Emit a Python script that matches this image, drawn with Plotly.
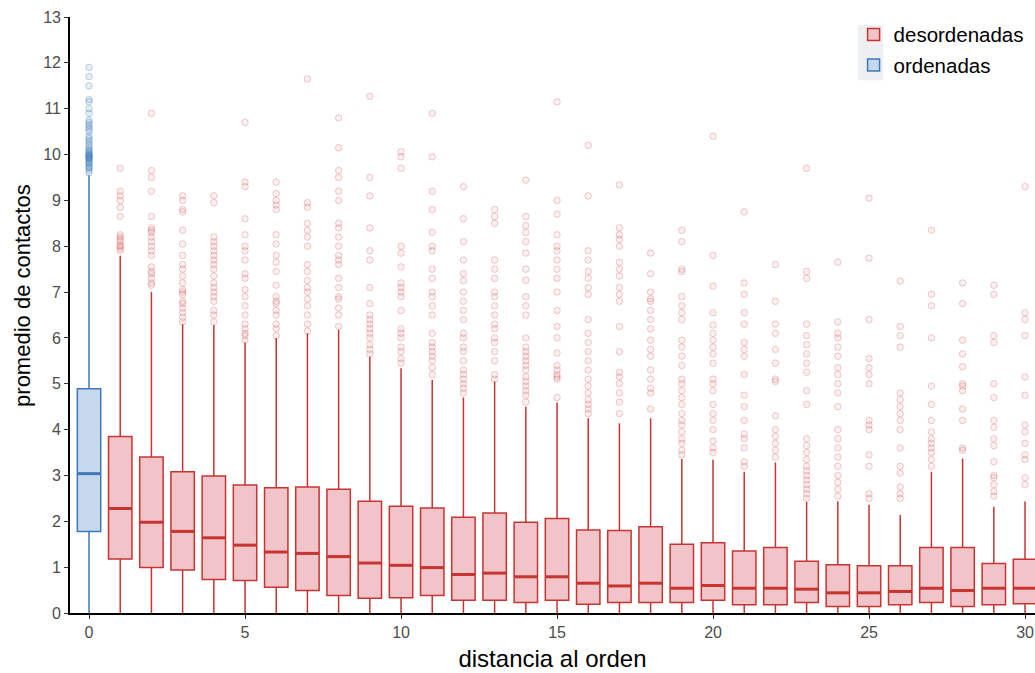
import plotly.graph_objects as go

# Distancia al orden de cada grupo de partículas
distancia_desord = list(range(1, 31))
distancia_ord = [0]

# Estadísticos de caja, partículas ordenadas (distancia 0)
ord_q1 = [1.78]
ord_mediana = [3.04]
ord_q3 = [4.89]
ord_bigote_inf = [0.0]
ord_bigote_sup = [9.55]

# Estadísticos de caja, partículas desordenadas (distancias 1..30)
des_q1 = [1.18, 0.99, 0.94, 0.73, 0.71, 0.56, 0.49, 0.38, 0.32, 0.33,
          0.38, 0.28, 0.28, 0.23, 0.28, 0.19, 0.23, 0.23, 0.23, 0.28,
          0.18, 0.18, 0.23, 0.14, 0.14, 0.18, 0.23, 0.14, 0.18, 0.20]
des_mediana = [2.28, 1.98, 1.78, 1.64, 1.48, 1.33, 1.30, 1.23, 1.09, 1.04,
               0.99, 0.84, 0.87, 0.79, 0.79, 0.65, 0.59, 0.65, 0.54, 0.60,
               0.54, 0.54, 0.52, 0.44, 0.44, 0.47, 0.54, 0.49, 0.54, 0.54]
des_q3 = [3.85, 3.40, 3.08, 2.99, 2.79, 2.73, 2.75, 2.70, 2.44, 2.33,
          2.29, 2.09, 2.18, 1.98, 2.06, 1.81, 1.80, 1.88, 1.50, 1.53,
          1.35, 1.43, 1.13, 1.05, 1.03, 1.03, 1.43, 1.43, 1.08, 1.17]
des_bigote_inf = [0.0] * 30
des_bigote_sup = [7.79, 7.00, 6.30, 6.28, 5.90, 6.00, 6.10, 6.18, 5.59, 5.34,
                  5.08, 4.70, 5.05, 4.50, 4.59, 4.25, 4.14, 4.25, 3.36, 3.34,
                  3.08, 3.28, 2.42, 2.44, 2.36, 2.14, 3.08, 3.37, 2.32, 2.43]

# Valores atípicos, partículas ordenadas
atipicos_ord = [9.60, 9.65, 9.70, 9.72, 9.75, 9.80, 9.82, 9.85, 9.88, 9.90,
                9.92, 9.94, 9.95, 9.97, 9.98, 10.00, 10.02, 10.05, 10.08,
                10.10, 10.15, 10.20, 10.25, 10.30, 10.35, 10.40, 10.50,
                10.55, 10.60, 10.65, 10.70, 10.75, 10.90, 11.00, 11.15,
                11.20, 11.50, 11.70, 11.90]

# Valores atípicos, partículas desordenadas (una lista por distancia)
atipicos_desord = [
    [7.90, 7.95, 8.00, 8.02, 8.10, 8.15, 8.20, 8.25, 8.65, 8.85, 9.00, 9.10, 9.20, 9.70],
    [7.15, 7.20, 7.30, 7.40, 7.45, 7.55, 7.80, 7.90, 8.00, 8.10, 8.20, 8.30, 8.35, 8.40,
     8.65, 9.20, 9.50, 9.65, 10.90],
    [6.35, 6.45, 6.55, 6.65, 6.75, 6.80, 6.95, 7.00, 7.05, 7.20, 7.35, 7.50, 7.60, 7.80,
     8.05, 8.35, 8.75, 8.80, 9.00, 9.10],
    [6.35, 6.50, 6.60, 6.80, 6.90, 7.00, 7.10, 7.20, 7.35, 7.50, 7.60, 7.70, 7.80, 7.90,
     8.00, 8.10, 8.20, 8.95, 9.10],
    [5.95, 6.05, 6.10, 6.20, 6.30, 6.50, 6.70, 6.90, 7.05, 7.30, 7.40, 7.70, 7.90, 8.00,
     8.25, 8.60, 9.30, 9.40, 10.70],
    [6.05, 6.20, 6.30, 6.50, 6.60, 6.75, 6.80, 6.90, 7.15, 7.45, 7.65, 7.80, 8.05, 8.25,
     8.80, 8.90, 9.00, 9.15, 9.40],
    [6.15, 6.30, 6.50, 6.70, 6.85, 7.00, 7.10, 7.25, 7.45, 7.60, 8.00, 8.20, 8.35, 8.50,
     8.85, 8.95, 11.65],
    [6.25, 6.50, 6.65, 6.85, 6.90, 7.10, 7.30, 7.60, 7.70, 7.80, 8.00, 8.20, 8.40, 8.50,
     9.00, 9.20, 9.50, 9.65, 10.15, 10.80],
    [5.65, 5.75, 5.85, 6.00, 6.10, 6.20, 6.30, 6.40, 6.50, 6.75, 7.10, 7.70, 7.90, 8.40,
     9.10, 9.50, 11.27],
    [5.45, 5.55, 5.70, 5.80, 6.00, 6.10, 6.20, 6.60, 6.90, 7.00, 7.10, 7.20, 7.55, 7.85,
     8.00, 9.70, 9.95, 10.06],
    [5.20, 5.35, 5.50, 5.60, 5.70, 5.80, 5.90, 6.10, 6.50, 6.70, 6.90, 7.00, 7.30, 7.50,
     7.90, 8.00, 8.30, 8.80, 9.20, 9.95, 10.90],
    [4.80, 4.90, 5.00, 5.10, 5.20, 5.30, 5.50, 5.70, 5.80, 6.00, 6.10, 6.40, 6.60, 6.80,
     7.00, 7.25, 7.40, 7.70, 8.10, 8.60, 9.30],
    [5.10, 5.20, 5.50, 5.70, 5.90, 6.00, 6.20, 6.30, 6.50, 6.70, 6.90, 7.00, 7.30, 7.50,
     7.70, 8.50, 8.65, 8.80],
    [4.60, 4.75, 4.85, 4.95, 5.05, 5.15, 5.30, 5.40, 5.50, 5.60, 5.70, 5.80, 6.00, 6.50,
     6.70, 6.90, 7.26, 7.50, 7.85, 8.10, 8.30, 8.45, 8.65, 9.44],
    [4.70, 5.10, 5.15, 5.20, 5.30, 5.40, 5.67, 6.00, 6.25, 6.60, 7.00, 7.30, 7.50, 7.70,
     7.90, 8.00, 8.25, 8.70, 9.00, 11.15],
    [4.35, 4.45, 4.55, 4.65, 4.80, 4.95, 5.10, 5.30, 5.50, 5.70, 5.90, 6.10, 6.40, 6.95,
     7.10, 7.30, 7.45, 7.70, 7.90, 9.10, 10.20],
    [4.35, 4.60, 4.80, 5.00, 5.15, 5.25, 5.70, 6.25, 6.80, 6.95, 7.10, 7.35, 7.50, 7.65,
     8.00, 8.15, 8.25, 8.40, 9.34],
    [4.45, 4.80, 4.90, 5.10, 5.30, 5.60, 5.75, 5.95, 6.20, 6.40, 6.60, 6.80, 6.85, 7.00,
     7.40, 7.85],
    [3.45, 3.55, 3.70, 3.80, 3.95, 4.10, 4.20, 4.35, 4.55, 4.70, 4.85, 5.00, 5.10, 5.40,
     5.60, 5.80, 5.95, 6.40, 6.55, 6.70, 6.90, 7.45, 7.50, 8.10, 8.35],
    [3.50, 3.60, 3.75, 4.00, 4.20, 4.35, 4.55, 4.85, 5.00, 5.10, 5.45, 5.65, 5.80, 5.95,
     6.10, 6.28, 6.55, 7.13, 7.80, 10.40],
    [3.20, 3.30, 3.60, 3.80, 3.90, 4.20, 4.50, 4.75, 5.20, 5.60, 5.75, 5.90, 6.30, 6.55,
     6.95, 7.20, 8.75],
    [3.40, 3.55, 3.70, 3.85, 4.00, 4.30, 5.05, 5.10, 5.45, 5.75, 6.10, 6.30, 6.80, 7.60],
    [2.50, 2.60, 2.70, 2.80, 2.90, 3.00, 3.10, 3.20, 3.35, 3.50, 3.65, 3.80, 4.55, 4.85,
     5.25, 5.45, 5.65, 5.85, 6.05, 6.30, 7.30, 7.45, 9.70],
    [2.55, 2.70, 2.85, 3.00, 3.20, 3.40, 3.60, 3.80, 4.00, 4.50, 4.80, 5.00, 5.20, 5.35,
     5.60, 5.80, 6.00, 6.10, 6.35, 7.65],
    [2.50, 2.60, 3.20, 3.45, 4.00, 4.10, 4.20, 5.00, 5.20, 5.35, 5.55, 6.40, 7.74, 9.05],
    [2.50, 2.60, 2.75, 3.05, 3.20, 3.60, 4.00, 4.20, 4.35, 4.50, 4.65, 4.80, 5.80, 6.05,
     6.25, 7.24],
    [3.20, 3.35, 3.50, 3.60, 3.70, 3.80, 3.95, 4.20, 4.55, 4.95, 6.00, 6.70, 6.95, 8.35],
    [3.55, 3.60, 4.20, 4.45, 4.85, 4.95, 5.00, 5.37, 5.65, 5.95, 6.75, 7.20],
    [2.55, 2.65, 2.80, 2.95, 3.00, 3.30, 3.65, 3.80, 4.05, 4.20, 4.70, 5.00, 5.90, 6.05,
     6.95, 7.15],
    [2.80, 2.95, 3.35, 3.45, 3.70, 3.95, 4.10, 4.75, 5.15, 6.05, 6.40, 6.55, 9.30],
]

ROJO = "rgb(200,52,48)"
ROJO_RELLENO = "rgb(240,196,200)"
AZUL = "rgb(60,122,188)"
AZUL_RELLENO = "rgb(199,216,236)"
ANCHO_CAJA = 0.75

fig = go.Figure()

# Puntos atípicos (debajo de las cajas)
x_atip, y_atip = [], []
for d, vals in zip(distancia_desord, atipicos_desord):
    x_atip += [d] * len(vals)
    y_atip += vals
fig.add_trace(go.Scatter(
    x=x_atip, y=y_atip, mode="markers", showlegend=False, hoverinfo="skip",
    marker=dict(size=6.5, color="rgba(205,60,60,0.08)",
                line=dict(color="rgba(205,60,60,0.26)", width=1)),
))
fig.add_trace(go.Scatter(
    x=distancia_ord * len(atipicos_ord), y=atipicos_ord, mode="markers",
    showlegend=False, hoverinfo="skip",
    marker=dict(size=6.5, color="rgba(60,122,188,0.12)",
                line=dict(color="rgba(60,122,188,0.32)", width=1)),
))

# Cajas
fig.add_trace(go.Box(
    name="desordenadas", x=distancia_desord,
    q1=des_q1, median=des_mediana, q3=des_q3,
    lowerfence=des_bigote_inf, upperfence=des_bigote_sup,
    width=ANCHO_CAJA, whiskerwidth=0, boxpoints=False,
    fillcolor=ROJO_RELLENO, line=dict(color=ROJO, width=1.5),
    legendrank=1, legendgroup="des",
))
fig.add_trace(go.Box(
    name="ordenadas", x=distancia_ord,
    q1=ord_q1, median=ord_mediana, q3=ord_q3,
    lowerfence=ord_bigote_inf, upperfence=ord_bigote_sup,
    width=ANCHO_CAJA, whiskerwidth=0, boxpoints=False,
    fillcolor=AZUL_RELLENO, line=dict(color=AZUL, width=1.5),
    legendrank=2, legendgroup="ord",
))

# Medianas resaltadas con trazo más grueso
def segmentos_mediana(xs, meds):
    sx, sy = [], []
    for xv, m in zip(xs, meds):
        sx += [xv - ANCHO_CAJA / 2, xv + ANCHO_CAJA / 2, None]
        sy += [m, m, None]
    return sx, sy

sx, sy = segmentos_mediana(distancia_desord, des_mediana)
fig.add_trace(go.Scatter(x=sx, y=sy, mode="lines", showlegend=False,
                         hoverinfo="skip", line=dict(color=ROJO, width=3)))
sx, sy = segmentos_mediana(distancia_ord, ord_mediana)
fig.add_trace(go.Scatter(x=sx, y=sy, mode="lines", showlegend=False,
                         hoverinfo="skip", line=dict(color=AZUL, width=3)))

eje = dict(showgrid=False, zeroline=False, showline=True, linecolor="black",
           linewidth=1.6, ticks="outside", ticklen=4, tickcolor="#333333",
           tickwidth=1, tickfont=dict(size=16, color="#4d4d4d"))

fig.update_layout(
    width=1035, height=673,
    margin=dict(l=70, r=0, t=17, b=60),
    paper_bgcolor="white", plot_bgcolor="white",
    font=dict(family="Liberation Sans, Arial, sans-serif", color="black"),
    showlegend=True,
    legend=dict(x=0.812, y=1.004, xanchor="left", yanchor="top",
                font=dict(size=20.5, color="black"), bgcolor="rgba(0,0,0,0)",
                traceorder="grouped", tracegroupgap=1, itemwidth=30),
    # fondo gris claro de las claves de la leyenda
    shapes=[dict(type="rect", xref="paper", yref="paper", layer="below",
                 x0=0.8166, x1=0.8425, y0=0.894, y1=0.9866,
                 fillcolor="#EDEFF2", line=dict(width=0))],
    annotations=[dict(text="promedio de contactos", textangle=-90,
                      xref="paper", yref="paper", x=-0.0487, y=0.532,
                      xanchor="center", yanchor="middle", showarrow=False,
                      font=dict(size=22, color="black"))],
    xaxis=dict(eje, range=[-0.61, 30.32], tickvals=[0, 5, 10, 15, 20, 25, 30],
               title=dict(text="distancia al orden", font=dict(size=24), standoff=10)),
    yaxis=dict(eje, range=[0, 13], tickvals=list(range(0, 14))),
)

fig.write_html("out.html")
